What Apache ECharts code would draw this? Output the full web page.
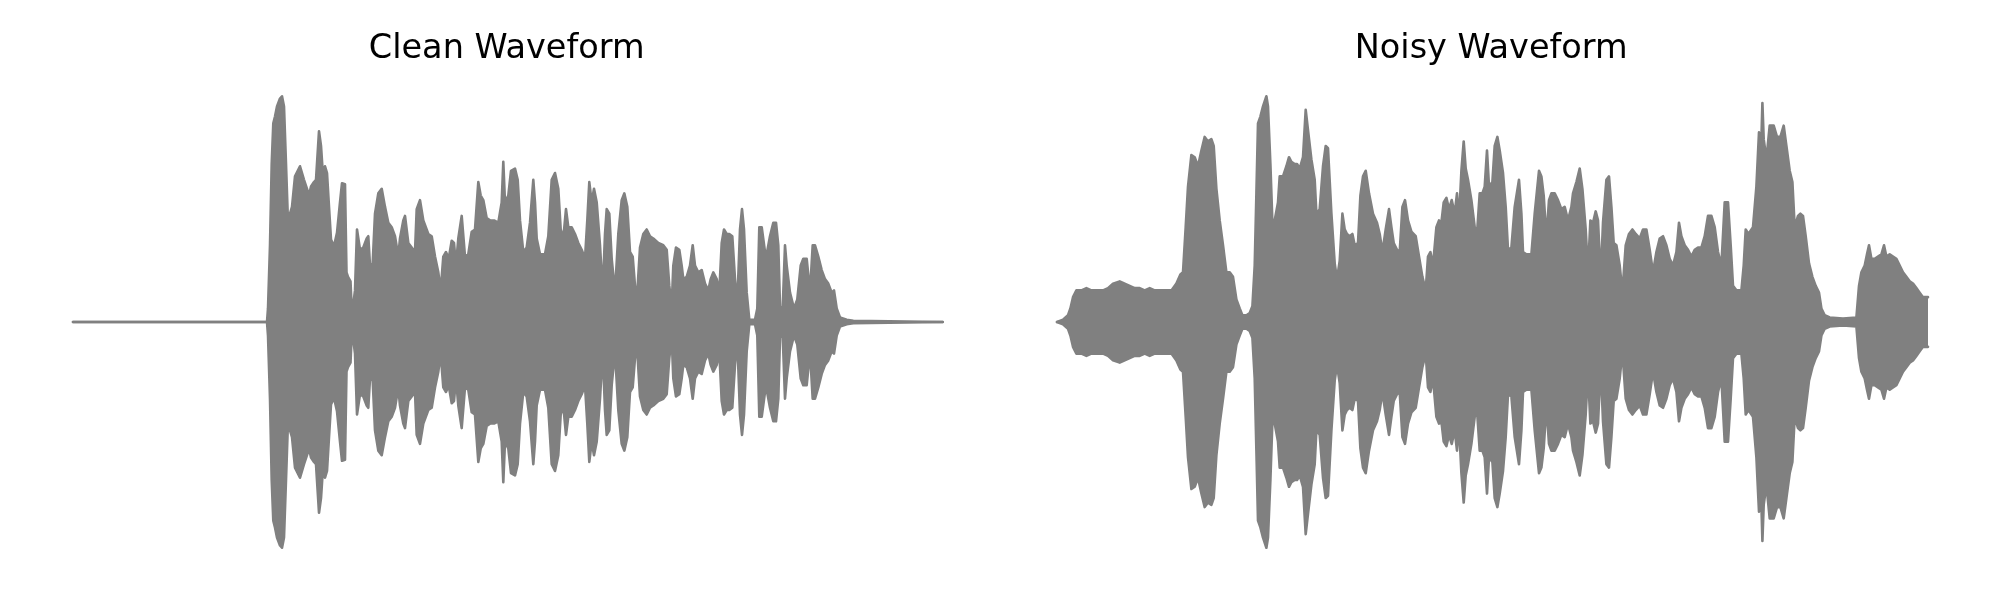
<!DOCTYPE html>
<html>
<head>
<meta charset="utf-8">
<script src="https://cdn.jsdelivr.net/npm/echarts@6/dist/echarts.min.js"></script>
<style>
html,body{margin:0;padding:0;background:#fff;}
#chart{width:2000px;height:600px;}
</style>
</head>
<body>
<div id="chart"></div>
<script>
// Panel titles
const panelTitles = ['Clean Waveform', 'Noisy Waveform'];

// Envelope of the clean waveform: [time (frames), peak amplitude]
const cleanEnvelope = [
[0,0],[194,0],[195,0.06],[197,0.34],[198.7,0.70],[200.3,0.88],[202,0.91],[204,0.955],[207,0.99],[209,1.0],[211,0.955],[213,0.70],[215,0.44],[217,0.48],[219,0.51],[222,0.645],[224,0.65],[227,0.69],[229,0.66],[231,0.63],[234,0.59],[236,0.56],[238,0.60],[241,0.62],[243,0.63],[246,0.845],[248,0.78],[250,0.645],[252,0.69],[254,0.66],[256,0.51],[258,0.365],[261,0.335],[264,0.395],[267,0.53],[269,0.615],[272,0.61],[273.5,0.22],[275,0.20],[277.5,0.18],[279,0.03],[280.5,0.03],[282,0.14],[284,0.41],[287,0.32],[290.3,0.33],[293.7,0.37],[295.3,0.38],[297,0.25],[299.7,0.26],[302,0.48],[305.3,0.57],[308.7,0.59],[312,0.51],[315.3,0.44],[318.7,0.42],[322,0.38],[325.3,0.29],[327,0.37],[330.3,0.45],[332,0.47],[335.3,0.35],[338.7,0.33],[342,0.31],[343.7,0.50],[347,0.54],[350.3,0.45],[355.3,0.39],[358.7,0.38],[362,0.29],[365.3,0.22],[367.7,0.14],[370.3,0.29],[373,0.31],[375.7,0.28],[378.7,0.36],[381,0.35],[383,0.25],[385.3,0.37],[388.7,0.47],[392,0.29],[395.3,0.30],[398.7,0.40],[402,0.41],[405.3,0.62],[407.7,0.56],[410.3,0.54],[413.7,0.46],[417,0.45],[421,0.45],[425.3,0.44],[428.7,0.53],[430.3,0.71],[432,0.53],[435.3,0.56],[438,0.67],[442,0.68],[444.7,0.63],[447,0.45],[450.3,0.31],[453.7,0.33],[457,0.44],[460.3,0.63],[462,0.53],[463.7,0.37],[467,0.30],[472,0.30],[475.3,0.38],[478.7,0.63],[482,0.66],[485.3,0.59],[487.7,0.41],[490.3,0.37],[493,0.50],[495.3,0.42],[498.7,0.42],[502,0.39],[505.3,0.35],[508.7,0.32],[512,0.28],[514.3,0.45],[516.3,0.62],[518.7,0.53],[521,0.59],[523.7,0.53],[527,0.34],[529.7,0.13],[532,0.39],[533.7,0.50],[536.3,0.48],[538.7,0.28],[542,0.13],[545.3,0.39],[548.7,0.54],[551.3,0.57],[554.3,0.51],[557,0.31],[559.7,0.29],[562,0.16],[564.3,0.13],[567,0.33],[570.3,0.39],[573.7,0.41],[577,0.38],[580.3,0.37],[585.3,0.35],[590.3,0.34],[593.7,0.32],[596.3,0.16],[598.7,0.07],[600.3,0.25],[603,0.33],[606.3,0.32],[608.7,0.25],[610.3,0.19],[613.7,0.20],[617,0.25],[619.7,0.34],[622,0.25],[625.3,0.22],[628.7,0.23],[632,0.17],[635.3,0.14],[637.7,0.19],[640.3,0.22],[643.7,0.19],[646.3,0.13],[648.7,0.35],[651,0.41],[653.7,0.39],[656.3,0.39],[659.3,0.38],[662,0.19],[664.3,0.08],[667,0.41],[669,0.50],[671,0.41],[673.7,0.13],[676.3,0.01],[682,0.01],[684.3,0.06],[686.3,0.42],[688.7,0.42],[692,0.31],[693.7,0.30],[697,0.38],[700.3,0.44],[703,0.44],[705.3,0.34],[707,0.07],[709.7,0.06],[712,0.34],[713.7,0.25],[717,0.13],[721,0.06],[724.3,0.10],[727.7,0.25],[730.3,0.28],[733.7,0.28],[737,0.13],[739.7,0.34],[742,0.34],[745.3,0.29],[748.7,0.23],[752,0.19],[755.3,0.17],[758.7,0.13],[761,0.14],[763.7,0.06],[767,0.02],[773.7,0.01],[780.3,0.005],[869.7,0]
];

// Envelope of the noisy waveform: [time (frames), peak amplitude]
const noisyEnvelope = [
[0,0],[6,0.01],[11,0.03],[13.4,0.06],[16,0.11],[19.4,0.14],[24.4,0.14],[29.4,0.15],[34.4,0.14],[39.4,0.14],[46,0.14],[51,0.15],[56,0.17],[62.7,0.18],[67.7,0.17],[72.7,0.16],[77.7,0.15],[82.7,0.15],[87.7,0.14],[92.7,0.15],[97.7,0.14],[102.7,0.14],[109.4,0.14],[114.4,0.14],[119.4,0.17],[123.4,0.21],[126,0.22],[128.7,0.42],[131,0.60],[134.4,0.74],[137.7,0.73],[141,0.69],[144.4,0.76],[147.7,0.82],[151,0.80],[154.4,0.81],[156.7,0.78],[159.4,0.59],[162.7,0.45],[166,0.34],[169.4,0.22],[172.7,0.22],[176,0.20],[179.4,0.10],[182.7,0.06],[185.4,0.03],[189.4,0.03],[192.7,0.04],[195.4,0.07],[197.7,0.25],[199.4,0.57],[201,0.88],[203.4,0.91],[206,0.955],[209.4,1.0],[211,0.955],[213.4,0.70],[215.4,0.44],[217.7,0.45],[221,0.53],[222.7,0.645],[226,0.645],[229.4,0.69],[232,0.73],[234.4,0.71],[237.7,0.70],[240,0.70],[242.7,0.68],[246,0.73],[248.7,0.94],[251,0.85],[254.4,0.72],[257.7,0.63],[259.4,0.48],[262.7,0.50],[266,0.69],[268.7,0.78],[271,0.77],[274.4,0.48],[277.7,0.26],[280,0.19],[282.7,0.27],[285.4,0.48],[287.7,0.41],[290,0.39],[292.7,0.38],[295.4,0.39],[297.7,0.34],[301,0.35],[303.4,0.56],[306,0.645],[308.7,0.67],[312,0.57],[316,0.48],[320,0.44],[322.7,0.39],[325.4,0.31],[328.7,0.41],[332,0.50],[334.4,0.42],[336.7,0.35],[340,0.32],[342.7,0.31],[345.4,0.51],[348,0.54],[351,0.45],[354.4,0.40],[358.7,0.38],[362,0.29],[365.4,0.20],[368.7,0.14],[371,0.29],[373.4,0.31],[376,0.25],[379.4,0.42],[382,0.45],[384.4,0.44],[386.7,0.53],[389.4,0.55],[392,0.50],[394.7,0.54],[397.7,0.48],[400,0.57],[402,0.45],[404.4,0.67],[406.7,0.80],[408.7,0.68],[411,0.63],[414.4,0.54],[417.7,0.42],[420,0.39],[422.7,0.57],[425.4,0.57],[427.7,0.60],[430,0.76],[432,0.60],[435.4,0.62],[437.7,0.78],[440.4,0.82],[442.7,0.76],[446,0.66],[448.7,0.51],[451,0.32],[454.4,0.33],[457.7,0.51],[462,0.63],[464.4,0.48],[466,0.31],[469.4,0.30],[474.4,0.30],[477.7,0.48],[482,0.67],[484.4,0.645],[486.7,0.56],[489.4,0.37],[492,0.54],[494.4,0.57],[497.7,0.57],[501,0.54],[504.4,0.50],[507.7,0.51],[511,0.45],[514.4,0.51],[516,0.57],[519.4,0.62],[522.7,0.68],[525.4,0.59],[528.7,0.41],[531,0.22],[533.4,0.45],[536,0.44],[538.7,0.49],[541,0.45],[543.7,0.19],[546,0.44],[549.4,0.63],[552,0.645],[554.4,0.51],[556.7,0.35],[559.4,0.34],[562.7,0.25],[565.4,0.13],[568.7,0.34],[572,0.39],[575.4,0.41],[578.7,0.39],[582.7,0.37],[586,0.41],[589.4,0.41],[592.7,0.32],[596,0.22],[599.4,0.31],[602.7,0.37],[606,0.38],[609.4,0.34],[612.7,0.28],[616,0.25],[619.4,0.31],[622,0.44],[624.4,0.38],[627.7,0.34],[631,0.32],[634.4,0.29],[637.7,0.32],[641,0.33],[644.4,0.33],[647.7,0.38],[651,0.47],[654.4,0.47],[657.7,0.42],[661,0.31],[664.4,0.25],[667.7,0.53],[671,0.53],[673.7,0.34],[676,0.16],[679.4,0.14],[684.4,0.14],[686.7,0.25],[688.7,0.41],[691.4,0.39],[696,0.42],[699.4,0.60],[702,0.84],[704.4,0.81],[705.4,0.97],[706.7,0.81],[709.4,0.72],[712.7,0.87],[716.7,0.87],[720,0.82],[723.4,0.82],[726.7,0.87],[729.4,0.78],[732.7,0.67],[735.4,0.62],[737.7,0.42],[741,0.47],[743.4,0.48],[746,0.47],[748.7,0.38],[752,0.26],[755.4,0.20],[758.7,0.16],[762,0.13],[764.4,0.06],[767.7,0.03],[772.7,0.02],[786,0.015],[799.4,0.02],[802,0.16],[804.4,0.22],[807.7,0.25],[810,0.30],[812,0.34],[814.4,0.28],[817.7,0.28],[821,0.29],[824.4,0.30],[827,0.34],[829.4,0.29],[832.7,0.30],[836,0.29],[839.4,0.28],[842.7,0.25],[846,0.22],[849.4,0.20],[852.7,0.18],[856,0.17],[859.4,0.15],[862.7,0.13],[866,0.11],[871,0.11]
];

const durations = [870, 871];

const COLOR = '#808080';
const chart = echarts.init(document.getElementById('chart'), null, {renderer: 'canvas'});

// Symmetric envelope: upper half (+amp) and lower half (-amp), each filled to zero.
function bandSeries(env, idx) {
  const line = {color: COLOR, width: 2.6, cap: 'round', join: 'round'};
  const area = {color: COLOR, opacity: 1, origin: 'auto'};
  return [
    {
      type: 'line', xAxisIndex: idx, yAxisIndex: idx,
      data: env.map(p => [p[0], p[1]]),
      symbol: 'none', lineStyle: line, areaStyle: area, clip: false, silent: true
    },
    {
      type: 'line', xAxisIndex: idx, yAxisIndex: idx,
      data: env.map(p => [p[0], -p[1]]),
      symbol: 'none', lineStyle: line, areaStyle: area, clip: false, silent: true
    }
  ];
}

const titleStyle = {fontFamily: 'DejaVu Sans', fontSize: 33.5, fontWeight: 'normal', color: '#000'};

chart.setOption({
  animation: false,
  backgroundColor: '#ffffff',
  title: [
    {text: panelTitles[0], left: 506.7, top: 32, padding: 0, textAlign: 'center', textStyle: titleStyle},
    {text: panelTitles[1], left: 1491.2, top: 32, padding: 0, textAlign: 'center', textStyle: titleStyle}
  ],
  grid: [
    {left: 73, width: 870, top: 85, height: 474},
    {left: 1057, width: 871, top: 85, height: 474}
  ],
  xAxis: [0, 1].map(i => ({type: 'value', gridIndex: i, min: 0, max: durations[i], show: false})),
  yAxis: [0, 1].map(i => ({type: 'value', gridIndex: i, min: -1.05, max: 1.05, show: false})),
  series: [...bandSeries(cleanEnvelope, 0), ...bandSeries(noisyEnvelope, 1)]
});
</script>
</body>
</html>
